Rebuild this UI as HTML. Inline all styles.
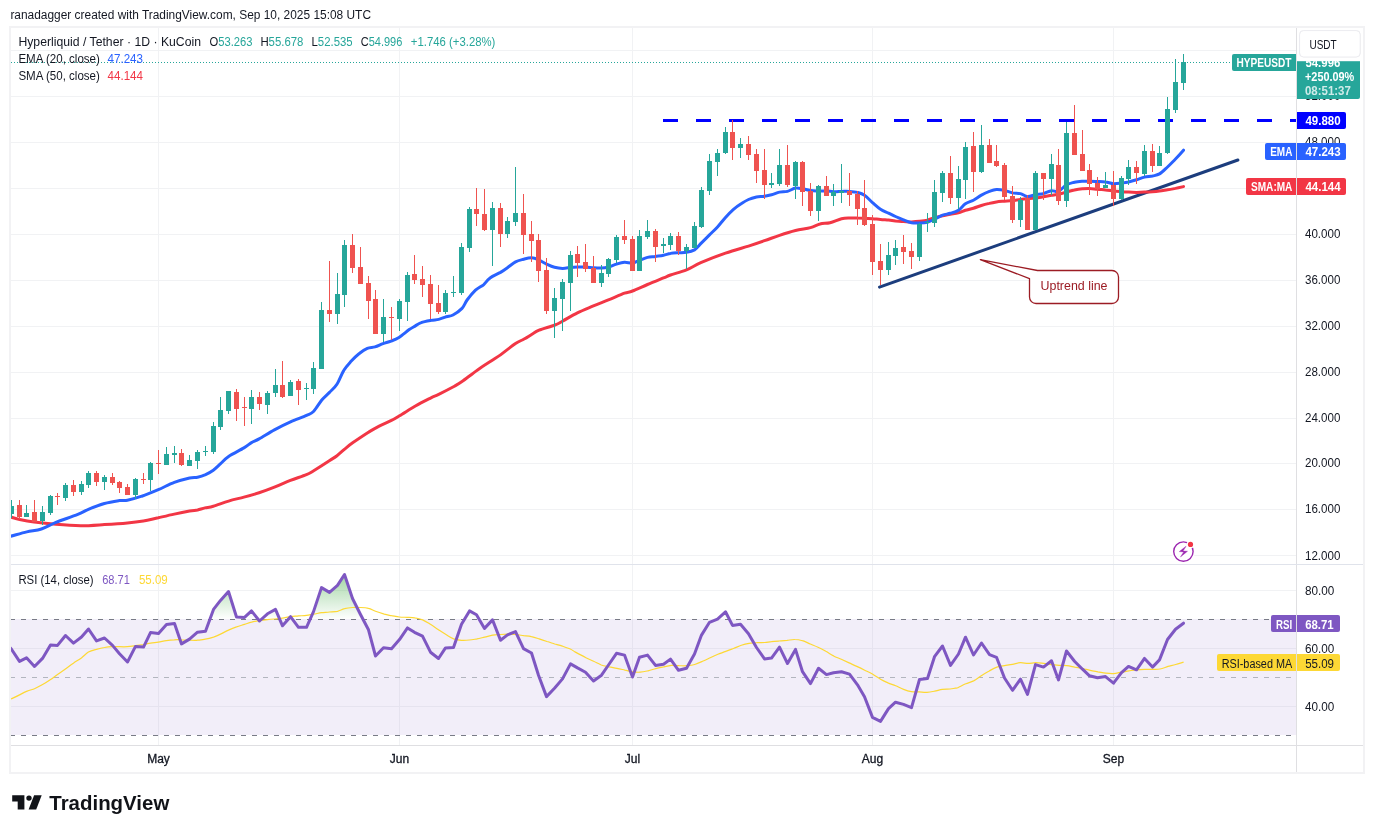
<!DOCTYPE html><html><head><meta charset="utf-8"><title>HYPEUSDT</title>
<style>
html,body{margin:0;padding:0;background:#fff;}
body{width:1374px;height:833px;overflow:hidden;position:relative;font-family:"Liberation Sans",sans-serif;color:#131722;}
svg{position:absolute;left:0;top:0;will-change:transform;}
svg text{font-family:"Liberation Sans",sans-serif;}
</style></head><body>
<svg width="1374" height="833" viewBox="0 0 1374 833">
<defs>
<clipPath id="cpMain"><rect x="11" y="28" width="1285" height="536"/></clipPath>
<clipPath id="cpRsi"><rect x="11" y="565" width="1285" height="180"/></clipPath>
<clipPath id="cpOver"><rect x="11" y="565" width="1285" height="54.5"/></clipPath>
<linearGradient id="gOver" gradientUnits="userSpaceOnUse" x1="0" y1="532.5" x2="0" y2="619.5"><stop offset="0" stop-color="#4caf50" stop-opacity="1"/><stop offset="1" stop-color="#4caf50" stop-opacity="0"/></linearGradient>
<clipPath id="cpRsiW"><rect x="11" y="565" width="1285" height="180"/></clipPath>
</defs>
<rect x="0" y="0" width="1374" height="833" fill="#fff"/>
<g shape-rendering="crispEdges" stroke="#f1f2f4" stroke-width="1">
<line x1="11" y1="555.5" x2="1296" y2="555.5"/>
<line x1="11" y1="509.5" x2="1296" y2="509.5"/>
<line x1="11" y1="463.5" x2="1296" y2="463.5"/>
<line x1="11" y1="418.5" x2="1296" y2="418.5"/>
<line x1="11" y1="372.5" x2="1296" y2="372.5"/>
<line x1="11" y1="326.5" x2="1296" y2="326.5"/>
<line x1="11" y1="280.5" x2="1296" y2="280.5"/>
<line x1="11" y1="234.5" x2="1296" y2="234.5"/>
<line x1="11" y1="188.5" x2="1296" y2="188.5"/>
<line x1="11" y1="142.5" x2="1296" y2="142.5"/>
<line x1="11" y1="96.5" x2="1296" y2="96.5"/>
<line x1="11" y1="50.5" x2="1296" y2="50.5"/>
<line x1="11" y1="590.5" x2="1296" y2="590.5"/>
<line x1="11" y1="648.5" x2="1296" y2="648.5"/>
<line x1="11" y1="706.5" x2="1296" y2="706.5"/>
<line x1="158.5" y1="28" x2="158.5" y2="745"/>
<line x1="399.5" y1="28" x2="399.5" y2="745"/>
<line x1="632.5" y1="28" x2="632.5" y2="745"/>
<line x1="872.5" y1="28" x2="872.5" y2="745"/>
<line x1="1113.5" y1="28" x2="1113.5" y2="745"/>
</g>
<rect x="11" y="619" width="1285" height="116" fill="#7e57c2" fill-opacity="0.1"/>
<g shape-rendering="crispEdges" stroke="#e6e3ef" stroke-width="1">
<line x1="11" y1="648.5" x2="1296" y2="648.5"/>
<line x1="11" y1="706.5" x2="1296" y2="706.5"/>
<line x1="158.5" y1="619.5" x2="158.5" y2="735.5"/>
<line x1="399.5" y1="619.5" x2="399.5" y2="735.5"/>
<line x1="632.5" y1="619.5" x2="632.5" y2="735.5"/>
<line x1="872.5" y1="619.5" x2="872.5" y2="735.5"/>
<line x1="1113.5" y1="619.5" x2="1113.5" y2="735.5"/>
</g>
<g shape-rendering="crispEdges" stroke-width="1" stroke-dasharray="5 6" clip-path="url(#cpRsiW)">
<line x1="10" y1="619.5" x2="1296" y2="619.5" stroke="#787b86"/>
<line x1="10" y1="677.5" x2="1296" y2="677.5" stroke="#b2b5be"/>
<line x1="10" y1="735.5" x2="1296" y2="735.5" stroke="#787b86"/>
</g>
<path d="M3.5,639.9 L11.5,649.3 L19.5,661.4 L26.5,657.8 L34.5,666.5 L42.5,658.4 L50.5,645.0 L57.5,645.4 L65.5,635.5 L73.5,643.1 L81.5,637.0 L88.5,629.0 L96.5,640.9 L104.5,638.0 L112.5,645.4 L119.5,653.7 L127.5,662.0 L135.5,646.4 L143.5,647.1 L150.5,632.6 L158.5,633.6 L166.5,624.6 L174.5,623.4 L181.5,643.9 L189.5,639.1 L197.5,632.2 L205.5,631.2 L213.5,609.4 L220.5,600.4 L228.5,591.5 L236.5,617.0 L244.5,617.4 L251.5,610.9 L259.5,621.0 L267.5,613.8 L275.5,609.4 L282.5,625.8 L290.5,616.7 L298.5,627.3 L306.5,627.3 L313.5,611.6 L321.5,587.6 L329.5,592.4 L337.5,585.4 L344.5,574.5 L352.5,598.5 L360.5,614.5 L368.5,629.8 L375.5,656.0 L383.5,647.7 L391.5,648.7 L399.5,639.6 L407.5,627.9 L414.5,632.3 L422.5,636.2 L430.5,652.2 L438.5,658.5 L445.5,647.9 L453.5,647.6 L461.5,624.3 L469.5,610.9 L476.5,614.8 L484.5,628.4 L492.5,619.9 L500.5,640.3 L507.5,634.9 L515.5,631.6 L523.5,648.6 L531.5,653.0 L538.5,675.2 L546.5,696.6 L554.5,688.3 L562.5,678.9 L570.5,663.9 L577.5,667.9 L585.5,672.2 L593.5,681.0 L601.5,675.2 L608.5,665.0 L616.5,653.3 L624.5,655.1 L632.5,677.0 L639.5,657.2 L647.5,655.1 L655.5,665.4 L663.5,664.2 L670.5,659.1 L678.5,670.3 L686.5,668.3 L694.5,654.0 L701.5,635.1 L709.5,622.3 L717.5,619.1 L725.5,611.8 L732.5,625.4 L740.5,624.2 L748.5,633.7 L756.5,647.5 L764.5,658.9 L771.5,658.1 L779.5,647.2 L787.5,663.5 L795.5,649.4 L802.5,671.7 L810.5,683.6 L818.5,668.3 L826.5,674.6 L833.5,672.7 L841.5,671.7 L849.5,674.1 L857.5,684.8 L864.5,696.7 L872.5,717.4 L880.5,721.4 L888.5,708.6 L895.5,702.2 L903.5,704.4 L911.5,707.6 L919.5,679.5 L927.5,678.5 L934.5,656.7 L942.5,646.0 L950.5,665.4 L958.5,654.0 L965.5,637.2 L973.5,655.0 L981.5,643.0 L989.5,654.7 L996.5,657.3 L1004.5,678.0 L1012.5,690.3 L1020.5,679.1 L1027.5,694.4 L1035.5,664.6 L1043.5,667.1 L1051.5,660.8 L1058.5,679.9 L1066.5,651.0 L1074.5,661.2 L1082.5,669.2 L1089.5,675.8 L1097.5,677.7 L1105.5,676.6 L1113.5,683.2 L1121.5,672.7 L1128.5,666.4 L1136.5,669.8 L1144.5,658.4 L1152.5,667.1 L1159.5,659.9 L1167.5,639.5 L1175.5,629.3 L1183.5,623.2 L1183.5,619.5 L3.5,619.5 Z" fill="url(#gOver)" clip-path="url(#cpOver)"/>
<path d="M2.1,700.6 C3.5,700.4 6.5,700.7 10.5,699.1 C14.6,697.6 22.5,693.2 26.5,691.4 C30.5,689.7 31.9,689.8 34.5,688.7 C37.2,687.5 39.9,686.1 42.6,684.6 C45.2,683.1 48.1,681.2 50.6,679.5 C53.1,677.8 55.1,676.1 57.5,674.4 C60.0,672.6 62.8,670.9 65.4,669.0 C68.1,667.1 70.7,665.0 73.4,663.2 C76.1,661.3 78.9,659.8 81.4,657.9 C83.9,656.1 85.9,653.6 88.4,652.1 C90.9,650.7 93.7,650.1 96.4,649.4 C99.1,648.6 101.7,647.9 104.4,647.5 C107.1,647.0 109.9,646.7 112.4,646.6 C114.9,646.5 116.9,646.7 119.4,646.7 C121.9,646.8 124.7,646.9 127.4,646.7 C130.1,646.6 132.8,646.1 135.4,645.7 C138.1,645.4 140.9,645.0 143.4,644.6 C146.0,644.1 148.1,643.5 150.6,643.1 C153.0,642.7 155.7,642.5 158.3,642.1 C160.9,641.7 163.6,641.0 166.3,640.6 C168.9,640.2 171.7,639.9 174.3,639.8 C176.8,639.6 179.0,639.7 181.6,639.8 C184.1,639.8 187.3,640.1 189.6,640.2 C191.8,640.3 193.7,640.4 195.0,640.4 C196.3,640.4 195.9,640.4 197.6,640.2 C199.3,640.0 202.7,639.8 205.3,639.2 C208.0,638.7 211.0,637.9 213.5,637.1 C216.0,636.2 218.0,635.3 220.5,634.1 C223.0,633.0 225.8,631.3 228.5,630.1 C231.1,628.9 233.8,627.8 236.5,626.9 C239.2,625.9 242.0,625.2 244.5,624.4 C247.0,623.6 249.0,622.7 251.5,622.1 C254.0,621.4 256.8,621.0 259.5,620.6 C262.2,620.2 264.8,619.9 267.5,619.6 C270.2,619.3 273.0,619.1 275.5,618.9 C278.0,618.6 280.0,618.5 282.5,618.1 C285.0,617.8 287.8,617.0 290.5,616.7 C293.2,616.3 295.8,616.2 298.5,615.9 C301.2,615.7 304.0,615.7 306.5,615.4 C309.0,615.1 311.0,614.6 313.5,614.2 C316.0,613.8 318.8,613.1 321.5,612.7 C324.2,612.4 326.8,612.3 329.5,612.0 C332.2,611.8 335.0,611.8 337.5,611.3 C340.0,610.7 342.0,609.3 344.5,608.7 C347.0,608.0 349.8,607.7 352.5,607.5 C355.2,607.3 357.8,607.4 360.5,607.5 C363.2,607.6 366.0,607.7 368.5,608.4 C371.0,609.0 372.9,610.3 375.5,611.3 C378.1,612.3 381.6,613.4 384.3,614.2 C386.9,614.9 389.0,615.2 391.5,615.7 C394.0,616.1 396.7,616.7 399.3,617.0 C401.9,617.3 404.5,617.2 407.1,617.3 C409.7,617.4 412.3,617.3 414.8,617.8 C417.4,618.2 420.0,618.8 422.6,619.9 C425.2,621.0 427.8,622.7 430.4,624.3 C433.0,625.9 435.5,627.7 438.1,629.4 C440.7,631.1 443.4,632.9 446.0,634.5 C448.6,636.1 451.1,637.9 453.7,638.9 C456.3,639.8 458.8,640.1 461.4,640.3 C464.0,640.5 466.7,640.3 469.3,640.0 C471.9,639.8 474.4,639.3 477.0,638.9 C479.6,638.4 482.1,637.7 484.7,637.1 C487.3,636.5 490.0,635.7 492.6,635.2 C495.2,634.8 497.7,634.7 500.3,634.5 C502.9,634.3 505.5,634.2 508.1,634.2 C510.7,634.2 513.3,634.2 515.9,634.5 C518.4,634.7 521.0,635.3 523.6,635.7 C526.2,636.0 528.8,636.1 531.4,636.7 C534.0,637.2 536.6,638.1 539.1,638.9 C541.7,639.7 544.4,640.6 547.0,641.5 C549.6,642.3 552.2,643.2 554.7,644.0 C557.3,644.7 559.8,645.3 562.4,646.1 C565.0,647.0 568.2,648.1 570.3,649.0 C572.4,650.0 572.4,650.4 575.0,651.9 C577.6,653.3 582.8,656.1 585.9,657.7 C589.0,659.3 591.1,660.1 593.6,661.3 C596.2,662.5 598.8,664.0 601.3,665.0 C603.9,665.9 606.6,666.3 609.2,666.9 C611.8,667.4 614.3,667.8 616.9,668.3 C619.5,668.8 622.2,669.5 624.8,670.1 C627.4,670.6 629.9,671.4 632.5,671.8 C635.1,672.2 637.6,672.4 640.2,672.2 C642.8,672.1 645.5,671.4 648.1,670.8 C650.7,670.2 653.2,669.3 655.8,668.6 C658.4,667.9 661.1,667.4 663.6,666.9 C666.2,666.3 668.8,665.6 671.4,665.4 C673.9,665.2 676.5,665.6 679.1,665.7 C681.7,665.7 684.3,665.9 686.9,665.7 C689.5,665.5 692.1,665.3 694.7,664.5 C697.2,663.8 699.9,662.5 702.5,661.3 C705.1,660.2 707.7,658.9 710.2,657.7 C712.8,656.5 715.3,655.4 717.9,654.3 C720.5,653.3 723.2,652.4 725.8,651.4 C728.4,650.5 730.9,649.5 733.5,648.5 C736.1,647.5 738.8,646.2 741.4,645.3 C744.0,644.5 746.5,643.9 749.1,643.4 C751.7,643.0 754.2,642.8 756.8,642.7 C759.4,642.5 762.4,642.6 764.8,642.5 C767.3,642.3 769.0,641.9 771.4,641.7 C773.8,641.4 776.5,641.2 779.1,641.0 C781.7,640.7 784.4,640.6 787.0,640.4 C789.6,640.1 792.1,639.4 794.7,639.5 C797.3,639.5 799.8,639.9 802.4,640.7 C805.0,641.4 807.7,642.9 810.3,644.0 C812.9,645.1 815.4,646.0 818.0,647.2 C820.6,648.4 823.2,649.8 825.8,651.3 C828.4,652.7 831.0,654.6 833.6,655.9 C836.1,657.3 838.7,658.1 841.3,659.3 C843.9,660.5 846.5,661.7 849.1,662.9 C851.7,664.1 854.3,665.2 856.8,666.4 C859.4,667.6 862.1,668.9 864.7,670.2 C867.3,671.5 869.9,672.7 872.4,674.1 C875.0,675.6 877.5,677.5 880.1,678.9 C882.7,680.4 885.4,681.7 888.0,682.9 C890.6,684.0 893.1,684.7 895.7,685.8 C898.3,686.9 901.0,688.5 903.6,689.4 C906.2,690.4 908.7,691.2 911.3,691.6 C913.9,692.0 916.4,691.8 919.0,691.9 C921.6,692.0 924.3,692.5 926.9,692.3 C929.5,692.2 932.0,691.7 934.6,691.2 C937.2,690.7 939.8,689.8 942.4,689.4 C945.0,689.1 948.1,689.2 950.2,689.0 C952.2,688.8 953.7,688.4 955.0,688.2 C956.3,687.9 956.1,688.4 957.9,687.7 C959.7,687.0 963.1,684.9 965.8,683.8 C968.4,682.7 971.0,682.2 973.6,680.9 C976.2,679.5 978.8,677.4 981.3,675.8 C983.9,674.1 986.6,672.4 989.2,671.0 C991.8,669.5 994.3,668.0 996.9,667.1 C999.5,666.2 1002.0,666.0 1004.6,665.6 C1007.2,665.2 1009.9,664.9 1012.5,664.4 C1015.1,663.9 1017.6,662.9 1020.2,662.7 C1022.8,662.5 1025.5,663.4 1028.1,663.4 C1030.7,663.4 1033.2,662.7 1035.8,662.7 C1038.4,662.7 1040.9,663.1 1043.5,663.4 C1046.1,663.7 1048.8,664.3 1051.4,664.6 C1054.0,664.9 1056.5,665.1 1059.1,665.3 C1061.7,665.5 1064.3,665.3 1066.9,665.6 C1069.5,665.9 1072.1,666.6 1074.7,667.1 C1077.2,667.5 1079.8,668.0 1082.4,668.5 C1085.0,669.1 1087.6,669.8 1090.2,670.4 C1092.8,671.0 1095.3,671.4 1097.9,671.9 C1100.5,672.3 1103.2,672.9 1105.8,673.2 C1108.4,673.5 1111.0,673.8 1113.5,673.6 C1116.1,673.5 1118.7,672.7 1121.3,672.2 C1123.8,671.8 1126.5,671.2 1129.1,670.8 C1131.7,670.4 1134.2,670.0 1136.8,669.8 C1139.4,669.5 1142.1,669.4 1144.7,669.3 C1147.3,669.3 1149.8,669.4 1152.4,669.3 C1155.0,669.3 1157.5,669.5 1160.1,669.0 C1162.7,668.6 1165.4,667.2 1168.0,666.4 C1170.6,665.7 1173.1,665.3 1175.7,664.5 C1178.3,663.8 1182.2,662.5 1183.6,662.1" fill="none" stroke="#fdd835" stroke-width="1.2" stroke-linejoin="round" clip-path="url(#cpRsi)"/>
<path d="M3.5,639.9 L11.5,649.3 L19.5,661.4 L26.5,657.8 L34.5,666.5 L42.5,658.4 L50.5,645.0 L57.5,645.4 L65.5,635.5 L73.5,643.1 L81.5,637.0 L88.5,629.0 L96.5,640.9 L104.5,638.0 L112.5,645.4 L119.5,653.7 L127.5,662.0 L135.5,646.4 L143.5,647.1 L150.5,632.6 L158.5,633.6 L166.5,624.6 L174.5,623.4 L181.5,643.9 L189.5,639.1 L197.5,632.2 L205.5,631.2 L213.5,609.4 L220.5,600.4 L228.5,591.5 L236.5,617.0 L244.5,617.4 L251.5,610.9 L259.5,621.0 L267.5,613.8 L275.5,609.4 L282.5,625.8 L290.5,616.7 L298.5,627.3 L306.5,627.3 L313.5,611.6 L321.5,587.6 L329.5,592.4 L337.5,585.4 L344.5,574.5 L352.5,598.5 L360.5,614.5 L368.5,629.8 L375.5,656.0 L383.5,647.7 L391.5,648.7 L399.5,639.6 L407.5,627.9 L414.5,632.3 L422.5,636.2 L430.5,652.2 L438.5,658.5 L445.5,647.9 L453.5,647.6 L461.5,624.3 L469.5,610.9 L476.5,614.8 L484.5,628.4 L492.5,619.9 L500.5,640.3 L507.5,634.9 L515.5,631.6 L523.5,648.6 L531.5,653.0 L538.5,675.2 L546.5,696.6 L554.5,688.3 L562.5,678.9 L570.5,663.9 L577.5,667.9 L585.5,672.2 L593.5,681.0 L601.5,675.2 L608.5,665.0 L616.5,653.3 L624.5,655.1 L632.5,677.0 L639.5,657.2 L647.5,655.1 L655.5,665.4 L663.5,664.2 L670.5,659.1 L678.5,670.3 L686.5,668.3 L694.5,654.0 L701.5,635.1 L709.5,622.3 L717.5,619.1 L725.5,611.8 L732.5,625.4 L740.5,624.2 L748.5,633.7 L756.5,647.5 L764.5,658.9 L771.5,658.1 L779.5,647.2 L787.5,663.5 L795.5,649.4 L802.5,671.7 L810.5,683.6 L818.5,668.3 L826.5,674.6 L833.5,672.7 L841.5,671.7 L849.5,674.1 L857.5,684.8 L864.5,696.7 L872.5,717.4 L880.5,721.4 L888.5,708.6 L895.5,702.2 L903.5,704.4 L911.5,707.6 L919.5,679.5 L927.5,678.5 L934.5,656.7 L942.5,646.0 L950.5,665.4 L958.5,654.0 L965.5,637.2 L973.5,655.0 L981.5,643.0 L989.5,654.7 L996.5,657.3 L1004.5,678.0 L1012.5,690.3 L1020.5,679.1 L1027.5,694.4 L1035.5,664.6 L1043.5,667.1 L1051.5,660.8 L1058.5,679.9 L1066.5,651.0 L1074.5,661.2 L1082.5,669.2 L1089.5,675.8 L1097.5,677.7 L1105.5,676.6 L1113.5,683.2 L1121.5,672.7 L1128.5,666.4 L1136.5,669.8 L1144.5,658.4 L1152.5,667.1 L1159.5,659.9 L1167.5,639.5 L1175.5,629.3 L1183.5,623.2" fill="none" stroke="#7e57c2" stroke-width="3" stroke-linejoin="round" stroke-linecap="round" clip-path="url(#cpRsi)"/>
<g clip-path="url(#cpMain)">
<line x1="11" y1="62.5" x2="1232" y2="62.5" stroke="#26a69a" stroke-width="1" stroke-dasharray="1 2" shape-rendering="crispEdges"/>
<line x1="663" y1="120.5" x2="1296" y2="120.5" stroke="#0000ff" stroke-width="3" stroke-dasharray="15 18"/>
<line x1="879.5" y1="287.1" x2="1237.9" y2="160" stroke="#1c3d7d" stroke-width="3" stroke-linecap="round"/>
<path d="M1037.5,270.5 H1112 a6.5,6.5 0 0 1 6.5,6.5 V297 a6.5,6.5 0 0 1 -6.5,6.5 H1036 a6.5,6.5 0 0 1 -6.5,-6.5 V278.6 L980.3,259.7 Z" fill="#fff" stroke="#9c1c24" stroke-width="1.3" stroke-linejoin="round"/>
<text x="1074" y="290" font-size="12" fill="#9c1c24" text-anchor="middle" textLength="67" lengthAdjust="spacingAndGlyphs">Uptrend line</text>
<path d="M2.1,515.2 C3.5,515.5 7.6,516.3 10.5,517.0 C13.4,517.8 15.6,518.7 19.6,519.5 C23.5,520.3 28.0,521.2 34.1,522.0 C40.2,522.8 48.2,523.7 55.9,524.3 C63.7,525.0 72.6,525.7 80.7,525.8 C88.8,525.8 96.6,525.1 104.4,524.6 C112.2,524.1 120.9,523.5 127.4,522.9 C133.9,522.3 138.1,521.8 143.3,521.0 C148.4,520.1 153.1,518.9 158.3,517.8 C163.4,516.6 169.1,515.2 174.3,514.1 C179.5,513.0 185.7,511.8 189.6,511.1 C193.5,510.4 195.0,510.5 197.6,510.0 C200.1,509.4 202.4,508.5 205.0,507.9 C207.6,507.3 209.4,507.5 213.3,506.3 C217.2,505.2 223.5,502.6 228.6,501.1 C233.7,499.5 238.8,498.5 243.9,497.1 C249.0,495.8 254.0,494.4 259.1,492.8 C264.2,491.1 269.2,489.3 274.4,487.2 C279.6,485.2 285.1,482.5 290.4,480.4 C295.8,478.3 302.6,476.2 306.4,474.6 C310.3,473.0 309.8,473.0 313.7,470.7 C317.6,468.3 325.9,463.0 329.7,460.5 C333.6,458.0 334.5,457.6 337.0,455.7 C339.6,453.7 342.4,451.0 345.0,448.8 C347.7,446.6 349.0,445.4 353.0,442.6 C357.0,439.7 364.7,434.7 369.0,431.9 C373.4,429.2 375.6,428.0 379.2,426.1 C382.9,424.2 387.5,422.4 390.9,420.7 C394.3,419.0 395.5,418.2 399.5,415.7 C403.6,413.3 410.2,409.0 415.4,406.0 C420.7,403.0 427.1,399.8 431.0,397.8 C434.9,395.9 434.8,396.3 438.7,394.3 C442.6,392.4 450.5,388.3 454.4,386.2 C458.3,384.0 458.1,384.2 462.0,381.5 C465.9,378.8 472.4,373.5 477.6,369.9 C482.8,366.2 489.3,362.2 493.1,359.7 C497.0,357.2 496.8,357.6 500.5,354.9 C504.2,352.2 511.6,346.2 515.5,343.6 C519.4,340.9 521.4,340.6 524.1,339.0 C526.9,337.5 529.5,335.7 532.0,334.2 C534.5,332.7 535.3,331.8 539.1,330.2 C542.9,328.7 551.0,326.5 554.9,325.0 C558.8,323.5 558.7,323.2 562.4,321.2 C566.2,319.2 572.3,315.4 577.4,312.9 C582.6,310.3 588.3,308.1 593.4,305.9 C598.6,303.7 603.3,301.9 608.4,299.8 C613.6,297.7 620.5,294.7 624.5,293.2 C628.5,291.8 628.6,292.5 632.5,291.0 C636.3,289.6 642.3,286.7 647.5,284.5 C652.6,282.3 659.6,279.5 663.5,277.9 C667.3,276.4 666.6,276.4 670.5,275.0 C674.3,273.7 681.4,272.0 686.5,269.9 C691.5,267.9 694.2,265.5 700.8,262.7 C707.3,259.9 717.6,255.8 725.5,253.1 C733.5,250.3 742.0,248.1 748.5,246.1 C755.0,244.0 759.4,242.5 764.5,240.7 C769.7,238.9 774.4,237.0 779.5,235.3 C784.7,233.6 790.4,231.8 795.5,230.5 C800.7,229.2 806.5,228.7 810.5,227.6 C814.6,226.5 816.8,224.8 820.0,224.0 C823.2,223.1 826.4,223.6 830.0,222.7 C833.6,221.9 838.2,219.5 841.5,218.7 C844.8,217.9 846.8,218.0 849.5,217.9 C852.2,217.8 855.0,218.0 857.5,218.1 C860.0,218.1 862.0,218.1 864.5,218.2 C867.0,218.3 869.8,218.5 872.5,218.7 C875.2,218.9 877.8,219.2 880.5,219.4 C883.2,219.6 886.0,219.9 888.5,220.1 C891.0,220.4 893.0,220.6 895.5,220.9 C898.0,221.1 900.8,221.4 903.5,221.6 C906.2,221.7 908.8,221.9 911.5,221.9 C914.2,221.8 916.9,221.6 919.5,221.3 C922.2,221.0 925.0,220.7 927.5,220.1 C930.0,219.5 932.0,218.4 934.6,217.6 C937.1,216.9 939.9,216.3 942.6,215.7 C945.2,215.2 947.8,214.8 950.4,214.3 C953.1,213.8 955.9,213.5 958.4,212.8 C960.9,212.2 962.9,211.1 965.4,210.3 C967.9,209.6 970.8,209.0 973.4,208.2 C976.1,207.4 978.8,206.3 981.4,205.5 C984.1,204.7 986.9,204.0 989.4,203.4 C991.9,202.7 993.9,202.3 996.4,201.9 C998.9,201.5 1001.8,201.4 1004.4,201.2 C1007.1,201.0 1009.8,200.9 1012.4,200.6 C1015.1,200.3 1017.9,199.7 1020.4,199.4 C1022.9,199.1 1024.9,198.9 1027.4,198.7 C1029.9,198.5 1032.8,198.3 1035.4,198.0 C1038.1,197.7 1040.8,197.2 1043.4,196.8 C1046.1,196.4 1048.9,195.8 1051.4,195.3 C1053.9,194.9 1055.9,194.9 1058.4,194.3 C1060.9,193.8 1063.8,192.9 1066.4,192.1 C1069.1,191.4 1071.8,190.5 1074.4,190.0 C1077.1,189.4 1079.9,189.0 1082.4,188.8 C1084.9,188.6 1087.0,188.4 1089.5,188.5 C1092.0,188.6 1094.8,189.0 1097.5,189.2 C1100.1,189.5 1102.8,189.7 1105.5,190.0 C1108.1,190.2 1110.8,190.7 1113.5,191.0 C1116.1,191.3 1119.0,191.5 1121.5,191.7 C1124.0,191.9 1126.0,192.0 1128.5,192.1 C1131.0,192.3 1133.8,192.4 1136.5,192.4 C1139.1,192.4 1141.8,192.3 1144.5,192.1 C1147.2,192.0 1150.0,191.9 1152.5,191.7 C1155.0,191.5 1157.0,191.3 1159.5,191.0 C1162.0,190.7 1164.8,190.2 1167.5,189.8 C1170.2,189.4 1172.8,188.9 1175.5,188.4 C1178.2,187.8 1182.2,186.9 1183.5,186.6" fill="none" stroke="#f23645" stroke-width="3" stroke-linejoin="round" stroke-linecap="round"/>
<path d="M2.1,538.4 C3.5,538.1 6.4,537.4 10.5,536.3 C14.7,535.2 21.7,533.1 26.8,531.9 C32.0,530.7 36.5,530.6 41.4,529.0 C46.2,527.4 49.9,524.9 55.9,522.4 C62.0,520.0 72.4,516.6 77.8,514.4 C83.2,512.2 84.0,511.1 88.4,509.3 C92.8,507.5 99.3,505.0 104.4,503.5 C109.6,502.1 115.6,501.2 119.4,500.6 C123.2,500.0 123.7,500.9 127.4,500.2 C131.2,499.4 136.7,498.0 141.8,496.2 C147.0,494.5 152.9,492.0 158.3,489.7 C163.7,487.4 169.1,484.3 174.3,482.4 C179.5,480.5 185.7,478.9 189.6,478.0 C193.5,477.2 194.9,477.8 197.6,477.2 C200.2,476.6 203.0,475.7 205.6,474.6 C208.2,473.4 210.8,472.0 213.3,470.2 C215.8,468.4 218.0,466.0 220.6,463.7 C223.1,461.4 224.7,459.0 228.6,456.4 C232.5,453.8 240.1,450.2 243.9,447.9 C247.6,445.7 248.6,444.4 251.1,442.9 C253.7,441.3 255.3,441.1 259.1,438.9 C263.0,436.8 269.2,432.7 274.4,429.9 C279.6,427.1 285.1,424.3 290.5,421.9 C295.8,419.5 302.7,417.2 306.5,415.4 C310.3,413.7 310.9,414.1 313.5,411.5 C316.0,408.9 319.2,403.2 321.8,400.0 C324.5,396.8 326.9,395.1 329.5,392.4 C332.0,389.7 334.8,387.7 337.1,384.0 C339.5,380.4 341.3,374.4 343.7,370.6 C346.0,366.7 348.7,364.0 351.3,361.1 C353.9,358.3 356.6,355.6 359.3,353.5 C362.0,351.3 364.7,349.5 367.3,348.4 C369.9,347.3 372.4,347.7 375.0,346.9 C377.6,346.1 380.3,344.6 383.0,343.6 C385.6,342.7 388.3,342.1 391.0,341.1 C393.6,340.1 396.0,339.3 399.0,337.4 C402.0,335.5 406.5,331.5 409.2,329.6 C411.9,327.7 413.4,327.1 415.4,325.9 C417.4,324.7 418.6,323.5 421.2,322.6 C423.8,321.6 428.1,320.9 431.0,320.4 C433.9,319.8 436.1,320.0 438.7,319.4 C441.3,318.8 444.0,317.5 446.4,316.7 C448.8,316.0 450.4,316.4 453.0,315.0 C455.6,313.6 459.6,310.9 462.0,308.4 C464.4,305.9 464.9,303.0 467.1,300.0 C469.4,296.9 472.8,292.8 475.5,290.2 C478.2,287.7 481.4,286.5 483.5,284.8 C485.6,283.0 486.4,281.3 487.9,279.9 C489.4,278.6 490.4,277.7 492.5,276.4 C494.5,275.2 498.0,273.8 500.5,272.4 C503.0,270.9 504.9,269.5 507.4,267.7 C509.9,266.0 512.8,263.3 515.5,261.9 C518.1,260.5 520.8,260.0 523.5,259.3 C526.1,258.6 529.0,257.7 531.5,257.8 C534.0,257.9 536.0,258.7 538.4,259.7 C540.9,260.8 543.8,262.8 546.5,264.1 C549.1,265.3 551.8,266.6 554.5,267.3 C557.1,268.0 559.8,268.4 562.5,268.4 C565.1,268.5 568.0,267.7 570.5,267.4 C573.0,267.2 575.0,267.1 577.5,267.0 C580.0,266.9 582.8,266.9 585.5,267.0 C588.1,267.1 590.8,267.5 593.5,267.7 C596.1,267.9 599.0,268.1 601.5,268.0 C604.0,267.9 606.0,267.6 608.5,267.0 C611.0,266.3 613.8,264.9 616.5,264.1 C619.1,263.3 621.8,262.4 624.5,262.2 C627.1,262.0 630.0,263.4 632.5,263.1 C635.0,262.7 637.0,261.3 639.5,260.3 C642.0,259.4 644.8,258.1 647.5,257.4 C650.2,256.8 652.8,256.8 655.5,256.4 C658.2,256.0 661.0,255.8 663.5,255.2 C666.0,254.7 668.0,253.8 670.5,253.4 C673.0,252.9 675.8,252.9 678.5,252.8 C681.2,252.6 683.9,252.8 686.5,252.3 C689.2,251.9 692.0,251.4 694.5,249.9 C697.0,248.3 699.0,245.4 701.5,242.9 C704.0,240.4 706.9,237.5 709.5,234.9 C712.2,232.2 714.9,229.8 717.5,226.9 C720.2,224.0 722.9,220.3 725.5,217.4 C728.2,214.5 730.9,211.7 733.5,209.4 C736.2,207.1 739.0,205.2 741.5,203.6 C744.0,201.9 746.0,200.6 748.5,199.5 C751.0,198.4 753.9,197.6 756.5,197.0 C759.2,196.5 762.0,196.7 764.5,196.3 C767.0,195.9 769.0,195.5 771.5,194.8 C774.0,194.1 776.9,192.7 779.5,192.1 C782.2,191.6 784.9,192.1 787.5,191.4 C790.2,190.7 793.0,188.5 795.5,188.1 C798.0,187.6 800.0,188.4 802.5,188.8 C805.0,189.2 807.9,190.2 810.5,190.5 C813.2,190.9 815.9,190.9 818.5,191.0 C821.2,191.0 824.0,190.9 826.5,191.0 C829.0,191.1 831.0,191.6 833.5,191.7 C836.0,191.8 838.9,191.5 841.5,191.4 C844.2,191.4 846.9,191.2 849.5,191.4 C852.2,191.6 855.0,191.8 857.5,192.4 C860.0,193.1 862.0,193.6 864.5,195.3 C867.0,197.0 869.9,200.3 872.5,202.6 C875.2,204.9 877.8,207.5 880.5,209.2 C883.2,211.0 886.0,211.9 888.5,213.1 C891.0,214.3 893.0,215.4 895.5,216.5 C898.0,217.6 900.8,218.8 903.5,219.8 C906.2,220.9 908.8,222.2 911.5,222.7 C914.2,223.3 916.9,223.1 919.5,223.0 C922.2,223.0 925.0,223.0 927.5,222.3 C930.0,221.6 932.0,220.3 934.6,219.1 C937.1,217.9 939.9,216.1 942.6,215.1 C945.2,214.2 947.8,214.1 950.4,213.3 C953.1,212.5 955.9,211.9 958.4,210.3 C960.9,208.8 962.9,205.5 965.4,203.8 C967.9,202.1 970.8,201.6 973.4,200.2 C976.1,198.7 978.8,196.5 981.4,195.1 C984.1,193.6 986.9,192.3 989.4,191.4 C991.9,190.5 993.9,189.7 996.4,189.5 C998.9,189.4 1001.8,189.8 1004.4,190.4 C1007.1,191.0 1009.8,192.3 1012.4,192.9 C1015.1,193.4 1017.9,193.0 1020.4,193.6 C1022.9,194.2 1024.9,196.3 1027.4,196.5 C1029.9,196.7 1032.8,195.3 1035.4,194.8 C1038.1,194.3 1040.8,194.3 1043.4,193.6 C1046.1,192.9 1048.9,191.1 1051.4,190.7 C1053.9,190.3 1055.9,192.4 1058.4,191.4 C1060.9,190.4 1063.8,186.4 1066.4,184.9 C1069.1,183.3 1071.8,182.9 1074.4,182.2 C1077.1,181.6 1079.9,181.4 1082.4,181.2 C1084.9,181.1 1087.0,181.2 1089.5,181.2 C1092.0,181.3 1094.8,181.4 1097.5,181.5 C1100.1,181.6 1102.8,181.6 1105.5,182.0 C1108.1,182.3 1110.8,183.5 1113.5,183.7 C1116.1,183.9 1119.0,183.3 1121.5,183.0 C1124.0,182.7 1126.0,182.5 1128.5,182.0 C1131.0,181.4 1133.8,180.6 1136.5,179.8 C1139.1,179.0 1141.8,177.8 1144.5,177.1 C1147.2,176.5 1150.0,176.5 1152.5,176.0 C1155.0,175.4 1157.0,175.4 1159.5,173.9 C1162.0,172.4 1164.8,169.5 1167.5,167.0 C1170.2,164.5 1172.8,161.7 1175.5,159.0 C1178.2,156.2 1182.2,151.7 1183.5,150.2" fill="none" stroke="#2962ff" stroke-width="3" stroke-linejoin="round" stroke-linecap="round"/>
<g shape-rendering="crispEdges">
<rect x="3" y="495" width="1" height="15" fill="#26a69a"/>
<rect x="1" y="500" width="5" height="5" fill="#26a69a"/>
<rect x="11" y="500" width="1" height="18" fill="#26a69a"/>
<rect x="9" y="506" width="5" height="8" fill="#26a69a"/>
<rect x="19" y="500" width="1" height="19" fill="#ef5350"/>
<rect x="17" y="505" width="5" height="12" fill="#ef5350"/>
<rect x="26" y="505" width="1" height="12" fill="#26a69a"/>
<rect x="24" y="513" width="5" height="4" fill="#26a69a"/>
<rect x="34" y="500" width="1" height="22" fill="#ef5350"/>
<rect x="32" y="512" width="5" height="10" fill="#ef5350"/>
<rect x="42" y="506" width="1" height="19" fill="#26a69a"/>
<rect x="40" y="512" width="5" height="9" fill="#26a69a"/>
<rect x="50" y="495" width="1" height="20" fill="#26a69a"/>
<rect x="48" y="496" width="5" height="17" fill="#26a69a"/>
<rect x="57" y="493" width="1" height="12" fill="#ef5350"/>
<rect x="55" y="496" width="5" height="1" fill="#ef5350"/>
<rect x="65" y="483" width="1" height="18" fill="#26a69a"/>
<rect x="63" y="485" width="5" height="13" fill="#26a69a"/>
<rect x="73" y="480" width="1" height="16" fill="#ef5350"/>
<rect x="71" y="485" width="5" height="7" fill="#ef5350"/>
<rect x="81" y="481" width="1" height="14" fill="#26a69a"/>
<rect x="79" y="484" width="5" height="8" fill="#26a69a"/>
<rect x="88" y="471" width="1" height="17" fill="#26a69a"/>
<rect x="86" y="473" width="5" height="12" fill="#26a69a"/>
<rect x="96" y="471" width="1" height="15" fill="#ef5350"/>
<rect x="94" y="473" width="5" height="9" fill="#ef5350"/>
<rect x="104" y="475" width="1" height="15" fill="#26a69a"/>
<rect x="102" y="477" width="5" height="5" fill="#26a69a"/>
<rect x="112" y="473" width="1" height="12" fill="#ef5350"/>
<rect x="110" y="477" width="5" height="6" fill="#ef5350"/>
<rect x="119" y="481" width="1" height="12" fill="#ef5350"/>
<rect x="117" y="482" width="5" height="6" fill="#ef5350"/>
<rect x="127" y="484" width="1" height="11" fill="#ef5350"/>
<rect x="125" y="487" width="5" height="8" fill="#ef5350"/>
<rect x="135" y="478" width="1" height="21" fill="#26a69a"/>
<rect x="133" y="479" width="5" height="16" fill="#26a69a"/>
<rect x="143" y="473" width="1" height="11" fill="#ef5350"/>
<rect x="141" y="479" width="5" height="1" fill="#ef5350"/>
<rect x="150" y="462" width="1" height="29" fill="#26a69a"/>
<rect x="148" y="463" width="5" height="17" fill="#26a69a"/>
<rect x="158" y="450" width="1" height="24" fill="#ef5350"/>
<rect x="156" y="463" width="5" height="1" fill="#ef5350"/>
<rect x="166" y="447" width="1" height="18" fill="#26a69a"/>
<rect x="164" y="454" width="5" height="11" fill="#26a69a"/>
<rect x="174" y="446" width="1" height="17" fill="#26a69a"/>
<rect x="172" y="453" width="5" height="2" fill="#26a69a"/>
<rect x="181" y="449" width="1" height="17" fill="#ef5350"/>
<rect x="179" y="453" width="5" height="12" fill="#ef5350"/>
<rect x="189" y="455" width="1" height="11" fill="#26a69a"/>
<rect x="187" y="460" width="5" height="6" fill="#26a69a"/>
<rect x="197" y="450" width="1" height="19" fill="#26a69a"/>
<rect x="195" y="452" width="5" height="9" fill="#26a69a"/>
<rect x="205" y="446" width="1" height="10" fill="#26a69a"/>
<rect x="203" y="451" width="5" height="1" fill="#26a69a"/>
<rect x="213" y="422" width="1" height="32" fill="#26a69a"/>
<rect x="211" y="426" width="5" height="26" fill="#26a69a"/>
<rect x="220" y="397" width="1" height="33" fill="#26a69a"/>
<rect x="218" y="410" width="5" height="17" fill="#26a69a"/>
<rect x="228" y="391" width="1" height="23" fill="#26a69a"/>
<rect x="226" y="391" width="5" height="20" fill="#26a69a"/>
<rect x="236" y="389" width="1" height="32" fill="#ef5350"/>
<rect x="234" y="392" width="5" height="17" fill="#ef5350"/>
<rect x="244" y="397" width="1" height="29" fill="#ef5350"/>
<rect x="242" y="407" width="5" height="1" fill="#ef5350"/>
<rect x="251" y="390" width="1" height="34" fill="#26a69a"/>
<rect x="249" y="397" width="5" height="12" fill="#26a69a"/>
<rect x="259" y="392" width="1" height="18" fill="#ef5350"/>
<rect x="257" y="397" width="5" height="7" fill="#ef5350"/>
<rect x="267" y="391" width="1" height="23" fill="#26a69a"/>
<rect x="265" y="393" width="5" height="12" fill="#26a69a"/>
<rect x="275" y="369" width="1" height="28" fill="#26a69a"/>
<rect x="273" y="385" width="5" height="8" fill="#26a69a"/>
<rect x="282" y="361" width="1" height="37" fill="#ef5350"/>
<rect x="280" y="385" width="5" height="12" fill="#ef5350"/>
<rect x="290" y="380" width="1" height="16" fill="#26a69a"/>
<rect x="288" y="382" width="5" height="14" fill="#26a69a"/>
<rect x="298" y="379" width="1" height="26" fill="#ef5350"/>
<rect x="296" y="381" width="5" height="9" fill="#ef5350"/>
<rect x="306" y="383" width="1" height="17" fill="#26a69a"/>
<rect x="304" y="388" width="5" height="1" fill="#26a69a"/>
<rect x="313" y="362" width="1" height="32" fill="#26a69a"/>
<rect x="311" y="368" width="5" height="21" fill="#26a69a"/>
<rect x="321" y="302" width="1" height="67" fill="#26a69a"/>
<rect x="319" y="310" width="5" height="59" fill="#26a69a"/>
<rect x="329" y="261" width="1" height="61" fill="#ef5350"/>
<rect x="327" y="310" width="5" height="4" fill="#ef5350"/>
<rect x="337" y="273" width="1" height="51" fill="#26a69a"/>
<rect x="335" y="294" width="5" height="20" fill="#26a69a"/>
<rect x="344" y="240" width="1" height="67" fill="#26a69a"/>
<rect x="342" y="245" width="5" height="50" fill="#26a69a"/>
<rect x="352" y="234" width="1" height="39" fill="#ef5350"/>
<rect x="350" y="245" width="5" height="23" fill="#ef5350"/>
<rect x="360" y="247" width="1" height="37" fill="#ef5350"/>
<rect x="358" y="267" width="5" height="17" fill="#ef5350"/>
<rect x="368" y="276" width="1" height="43" fill="#ef5350"/>
<rect x="366" y="283" width="5" height="18" fill="#ef5350"/>
<rect x="375" y="290" width="1" height="44" fill="#ef5350"/>
<rect x="373" y="299" width="5" height="35" fill="#ef5350"/>
<rect x="383" y="299" width="1" height="43" fill="#26a69a"/>
<rect x="381" y="317" width="5" height="17" fill="#26a69a"/>
<rect x="391" y="307" width="1" height="33" fill="#ef5350"/>
<rect x="389" y="317" width="5" height="1" fill="#ef5350"/>
<rect x="399" y="299" width="1" height="32" fill="#26a69a"/>
<rect x="397" y="301" width="5" height="18" fill="#26a69a"/>
<rect x="407" y="272" width="1" height="49" fill="#26a69a"/>
<rect x="405" y="275" width="5" height="27" fill="#26a69a"/>
<rect x="414" y="255" width="1" height="29" fill="#ef5350"/>
<rect x="412" y="274" width="5" height="6" fill="#ef5350"/>
<rect x="422" y="266" width="1" height="31" fill="#ef5350"/>
<rect x="420" y="279" width="5" height="6" fill="#ef5350"/>
<rect x="430" y="275" width="1" height="44" fill="#ef5350"/>
<rect x="428" y="284" width="5" height="20" fill="#ef5350"/>
<rect x="438" y="285" width="1" height="29" fill="#ef5350"/>
<rect x="436" y="303" width="5" height="9" fill="#ef5350"/>
<rect x="445" y="290" width="1" height="24" fill="#26a69a"/>
<rect x="443" y="293" width="5" height="19" fill="#26a69a"/>
<rect x="453" y="276" width="1" height="21" fill="#26a69a"/>
<rect x="451" y="292" width="5" height="1" fill="#26a69a"/>
<rect x="461" y="243" width="1" height="52" fill="#26a69a"/>
<rect x="459" y="247" width="5" height="46" fill="#26a69a"/>
<rect x="469" y="207" width="1" height="45" fill="#26a69a"/>
<rect x="467" y="209" width="5" height="39" fill="#26a69a"/>
<rect x="476" y="188" width="1" height="38" fill="#ef5350"/>
<rect x="474" y="209" width="5" height="5" fill="#ef5350"/>
<rect x="484" y="189" width="1" height="42" fill="#ef5350"/>
<rect x="482" y="214" width="5" height="16" fill="#ef5350"/>
<rect x="492" y="202" width="1" height="64" fill="#26a69a"/>
<rect x="490" y="208" width="5" height="22" fill="#26a69a"/>
<rect x="500" y="203" width="1" height="44" fill="#ef5350"/>
<rect x="498" y="208" width="5" height="26" fill="#ef5350"/>
<rect x="507" y="217" width="1" height="21" fill="#26a69a"/>
<rect x="505" y="221" width="5" height="13" fill="#26a69a"/>
<rect x="515" y="167" width="1" height="59" fill="#26a69a"/>
<rect x="513" y="213" width="5" height="9" fill="#26a69a"/>
<rect x="523" y="194" width="1" height="60" fill="#ef5350"/>
<rect x="521" y="213" width="5" height="22" fill="#ef5350"/>
<rect x="531" y="221" width="1" height="41" fill="#ef5350"/>
<rect x="529" y="234" width="5" height="7" fill="#ef5350"/>
<rect x="538" y="234" width="1" height="48" fill="#ef5350"/>
<rect x="536" y="240" width="5" height="31" fill="#ef5350"/>
<rect x="546" y="258" width="1" height="56" fill="#ef5350"/>
<rect x="544" y="270" width="5" height="41" fill="#ef5350"/>
<rect x="554" y="288" width="1" height="50" fill="#26a69a"/>
<rect x="552" y="298" width="5" height="13" fill="#26a69a"/>
<rect x="562" y="279" width="1" height="52" fill="#26a69a"/>
<rect x="560" y="282" width="5" height="17" fill="#26a69a"/>
<rect x="570" y="251" width="1" height="60" fill="#26a69a"/>
<rect x="568" y="255" width="5" height="28" fill="#26a69a"/>
<rect x="577" y="246" width="1" height="31" fill="#ef5350"/>
<rect x="575" y="254" width="5" height="9" fill="#ef5350"/>
<rect x="585" y="244" width="1" height="28" fill="#ef5350"/>
<rect x="583" y="262" width="5" height="7" fill="#ef5350"/>
<rect x="593" y="256" width="1" height="27" fill="#ef5350"/>
<rect x="591" y="268" width="5" height="15" fill="#ef5350"/>
<rect x="601" y="265" width="1" height="22" fill="#26a69a"/>
<rect x="599" y="273" width="5" height="10" fill="#26a69a"/>
<rect x="608" y="258" width="1" height="19" fill="#26a69a"/>
<rect x="606" y="259" width="5" height="15" fill="#26a69a"/>
<rect x="616" y="235" width="1" height="28" fill="#26a69a"/>
<rect x="614" y="237" width="5" height="23" fill="#26a69a"/>
<rect x="624" y="220" width="1" height="24" fill="#ef5350"/>
<rect x="622" y="236" width="5" height="4" fill="#ef5350"/>
<rect x="632" y="236" width="1" height="35" fill="#ef5350"/>
<rect x="630" y="239" width="5" height="32" fill="#ef5350"/>
<rect x="639" y="230" width="1" height="41" fill="#26a69a"/>
<rect x="637" y="236" width="5" height="35" fill="#26a69a"/>
<rect x="647" y="220" width="1" height="19" fill="#26a69a"/>
<rect x="645" y="231" width="5" height="6" fill="#26a69a"/>
<rect x="655" y="229" width="1" height="33" fill="#ef5350"/>
<rect x="653" y="231" width="5" height="16" fill="#ef5350"/>
<rect x="663" y="238" width="1" height="15" fill="#26a69a"/>
<rect x="661" y="244" width="5" height="2" fill="#26a69a"/>
<rect x="670" y="233" width="1" height="17" fill="#26a69a"/>
<rect x="668" y="236" width="5" height="9" fill="#26a69a"/>
<rect x="678" y="232" width="1" height="23" fill="#ef5350"/>
<rect x="676" y="236" width="5" height="15" fill="#ef5350"/>
<rect x="686" y="244" width="1" height="25" fill="#26a69a"/>
<rect x="684" y="247" width="5" height="4" fill="#26a69a"/>
<rect x="694" y="222" width="1" height="26" fill="#26a69a"/>
<rect x="692" y="226" width="5" height="22" fill="#26a69a"/>
<rect x="701" y="187" width="1" height="41" fill="#26a69a"/>
<rect x="699" y="190" width="5" height="37" fill="#26a69a"/>
<rect x="709" y="154" width="1" height="41" fill="#26a69a"/>
<rect x="707" y="161" width="5" height="30" fill="#26a69a"/>
<rect x="717" y="149" width="1" height="27" fill="#26a69a"/>
<rect x="715" y="153" width="5" height="9" fill="#26a69a"/>
<rect x="725" y="127" width="1" height="27" fill="#26a69a"/>
<rect x="723" y="132" width="5" height="21" fill="#26a69a"/>
<rect x="732" y="120" width="1" height="40" fill="#ef5350"/>
<rect x="730" y="132" width="5" height="16" fill="#ef5350"/>
<rect x="740" y="138" width="1" height="20" fill="#26a69a"/>
<rect x="738" y="144" width="5" height="4" fill="#26a69a"/>
<rect x="748" y="136" width="1" height="24" fill="#ef5350"/>
<rect x="746" y="144" width="5" height="11" fill="#ef5350"/>
<rect x="756" y="149" width="1" height="34" fill="#ef5350"/>
<rect x="754" y="154" width="5" height="17" fill="#ef5350"/>
<rect x="764" y="149" width="1" height="50" fill="#ef5350"/>
<rect x="762" y="170" width="5" height="15" fill="#ef5350"/>
<rect x="771" y="173" width="1" height="15" fill="#26a69a"/>
<rect x="769" y="183" width="5" height="2" fill="#26a69a"/>
<rect x="779" y="149" width="1" height="37" fill="#26a69a"/>
<rect x="777" y="165" width="5" height="19" fill="#26a69a"/>
<rect x="787" y="145" width="1" height="42" fill="#ef5350"/>
<rect x="785" y="165" width="5" height="20" fill="#ef5350"/>
<rect x="795" y="161" width="1" height="38" fill="#26a69a"/>
<rect x="793" y="162" width="5" height="24" fill="#26a69a"/>
<rect x="802" y="161" width="1" height="45" fill="#ef5350"/>
<rect x="800" y="162" width="5" height="30" fill="#ef5350"/>
<rect x="810" y="183" width="1" height="33" fill="#ef5350"/>
<rect x="808" y="191" width="5" height="20" fill="#ef5350"/>
<rect x="818" y="185" width="1" height="36" fill="#26a69a"/>
<rect x="816" y="186" width="5" height="25" fill="#26a69a"/>
<rect x="826" y="176" width="1" height="20" fill="#ef5350"/>
<rect x="824" y="186" width="5" height="10" fill="#ef5350"/>
<rect x="833" y="184" width="1" height="22" fill="#26a69a"/>
<rect x="831" y="192" width="5" height="4" fill="#26a69a"/>
<rect x="841" y="164" width="1" height="39" fill="#26a69a"/>
<rect x="839" y="191" width="5" height="2" fill="#26a69a"/>
<rect x="849" y="173" width="1" height="33" fill="#ef5350"/>
<rect x="847" y="191" width="5" height="4" fill="#ef5350"/>
<rect x="857" y="191" width="1" height="34" fill="#ef5350"/>
<rect x="855" y="194" width="5" height="15" fill="#ef5350"/>
<rect x="864" y="180" width="1" height="46" fill="#ef5350"/>
<rect x="862" y="208" width="5" height="17" fill="#ef5350"/>
<rect x="872" y="215" width="1" height="60" fill="#ef5350"/>
<rect x="870" y="224" width="5" height="38" fill="#ef5350"/>
<rect x="880" y="244" width="1" height="41" fill="#ef5350"/>
<rect x="878" y="261" width="5" height="9" fill="#ef5350"/>
<rect x="888" y="242" width="1" height="33" fill="#26a69a"/>
<rect x="886" y="255" width="5" height="15" fill="#26a69a"/>
<rect x="895" y="240" width="1" height="25" fill="#26a69a"/>
<rect x="893" y="248" width="5" height="8" fill="#26a69a"/>
<rect x="903" y="235" width="1" height="29" fill="#ef5350"/>
<rect x="901" y="247" width="5" height="5" fill="#ef5350"/>
<rect x="911" y="243" width="1" height="26" fill="#ef5350"/>
<rect x="909" y="251" width="5" height="6" fill="#ef5350"/>
<rect x="919" y="223" width="1" height="38" fill="#26a69a"/>
<rect x="917" y="224" width="5" height="33" fill="#26a69a"/>
<rect x="927" y="213" width="1" height="19" fill="#26a69a"/>
<rect x="925" y="222" width="5" height="1" fill="#26a69a"/>
<rect x="934" y="180" width="1" height="47" fill="#26a69a"/>
<rect x="932" y="192" width="5" height="31" fill="#26a69a"/>
<rect x="942" y="171" width="1" height="31" fill="#26a69a"/>
<rect x="940" y="173" width="5" height="20" fill="#26a69a"/>
<rect x="950" y="156" width="1" height="48" fill="#ef5350"/>
<rect x="948" y="173" width="5" height="25" fill="#ef5350"/>
<rect x="958" y="166" width="1" height="43" fill="#26a69a"/>
<rect x="956" y="179" width="5" height="19" fill="#26a69a"/>
<rect x="965" y="142" width="1" height="57" fill="#26a69a"/>
<rect x="963" y="147" width="5" height="33" fill="#26a69a"/>
<rect x="973" y="132" width="1" height="60" fill="#ef5350"/>
<rect x="971" y="146" width="5" height="26" fill="#ef5350"/>
<rect x="981" y="125" width="1" height="48" fill="#26a69a"/>
<rect x="979" y="145" width="5" height="27" fill="#26a69a"/>
<rect x="989" y="139" width="1" height="24" fill="#ef5350"/>
<rect x="987" y="145" width="5" height="18" fill="#ef5350"/>
<rect x="996" y="145" width="1" height="22" fill="#ef5350"/>
<rect x="994" y="161" width="5" height="5" fill="#ef5350"/>
<rect x="1004" y="163" width="1" height="37" fill="#ef5350"/>
<rect x="1002" y="165" width="5" height="32" fill="#ef5350"/>
<rect x="1012" y="186" width="1" height="37" fill="#ef5350"/>
<rect x="1010" y="196" width="5" height="24" fill="#ef5350"/>
<rect x="1020" y="197" width="1" height="30" fill="#26a69a"/>
<rect x="1018" y="200" width="5" height="20" fill="#26a69a"/>
<rect x="1027" y="195" width="1" height="35" fill="#ef5350"/>
<rect x="1025" y="198" width="5" height="32" fill="#ef5350"/>
<rect x="1035" y="171" width="1" height="59" fill="#26a69a"/>
<rect x="1033" y="173" width="5" height="57" fill="#26a69a"/>
<rect x="1043" y="173" width="1" height="27" fill="#ef5350"/>
<rect x="1041" y="173" width="5" height="6" fill="#ef5350"/>
<rect x="1051" y="154" width="1" height="41" fill="#26a69a"/>
<rect x="1049" y="164" width="5" height="15" fill="#26a69a"/>
<rect x="1058" y="149" width="1" height="56" fill="#ef5350"/>
<rect x="1056" y="165" width="5" height="36" fill="#ef5350"/>
<rect x="1066" y="122" width="1" height="85" fill="#26a69a"/>
<rect x="1064" y="133" width="5" height="68" fill="#26a69a"/>
<rect x="1074" y="105" width="1" height="50" fill="#ef5350"/>
<rect x="1072" y="133" width="5" height="22" fill="#ef5350"/>
<rect x="1082" y="130" width="1" height="41" fill="#ef5350"/>
<rect x="1080" y="154" width="5" height="17" fill="#ef5350"/>
<rect x="1089" y="164" width="1" height="31" fill="#ef5350"/>
<rect x="1087" y="170" width="5" height="14" fill="#ef5350"/>
<rect x="1097" y="177" width="1" height="19" fill="#ef5350"/>
<rect x="1095" y="183" width="5" height="6" fill="#ef5350"/>
<rect x="1105" y="172" width="1" height="16" fill="#26a69a"/>
<rect x="1103" y="185" width="5" height="3" fill="#26a69a"/>
<rect x="1113" y="171" width="1" height="35" fill="#ef5350"/>
<rect x="1111" y="185" width="5" height="14" fill="#ef5350"/>
<rect x="1121" y="176" width="1" height="24" fill="#26a69a"/>
<rect x="1119" y="178" width="5" height="21" fill="#26a69a"/>
<rect x="1128" y="160" width="1" height="25" fill="#26a69a"/>
<rect x="1126" y="167" width="5" height="12" fill="#26a69a"/>
<rect x="1136" y="161" width="1" height="23" fill="#ef5350"/>
<rect x="1134" y="167" width="5" height="6" fill="#ef5350"/>
<rect x="1144" y="145" width="1" height="31" fill="#26a69a"/>
<rect x="1142" y="151" width="5" height="23" fill="#26a69a"/>
<rect x="1152" y="144" width="1" height="28" fill="#ef5350"/>
<rect x="1150" y="151" width="5" height="15" fill="#ef5350"/>
<rect x="1159" y="146" width="1" height="20" fill="#26a69a"/>
<rect x="1157" y="153" width="5" height="13" fill="#26a69a"/>
<rect x="1167" y="97" width="1" height="57" fill="#26a69a"/>
<rect x="1165" y="109" width="5" height="44" fill="#26a69a"/>
<rect x="1175" y="59" width="1" height="54" fill="#26a69a"/>
<rect x="1173" y="82" width="5" height="28" fill="#26a69a"/>
<rect x="1183" y="54" width="1" height="36" fill="#26a69a"/>
<rect x="1181" y="62" width="5" height="21" fill="#26a69a"/>
</g>
</g>
<g><circle cx="1183.4" cy="551.6" r="11.6" fill="#fff"/><circle cx="1183.4" cy="551.6" r="9.7" fill="#fff" stroke="#9c27b0" stroke-width="1.4"/>
<path d="M1186.1,546.2 L1179.3,551.6 L1183.7,551.9 L1180.5,556.9 L1187.5,551.3 L1183.0,551.0 Z" fill="#9c27b0" stroke="#9c27b0" stroke-width="0.4" stroke-linejoin="round"/>
<circle cx="1190.5" cy="544.4" r="3.8" fill="#fff"/><circle cx="1190.5" cy="544.4" r="2.6" fill="#f23645"/></g>
<g shape-rendering="crispEdges" fill="none">
<line x1="1296.5" y1="28" x2="1296.5" y2="772" stroke="#dfdfe2"/>
<line x1="11" y1="745.5" x2="1363" y2="745.5" stroke="#dfdfe2"/>
<line x1="11" y1="564.5" x2="1363" y2="564.5" stroke="#e0e3eb"/>
<rect x="10" y="27" width="1354" height="746" stroke="#f2f2f4" stroke-width="2"/>
</g>
<g font-size="12" fill="#131722">
<text x="1305" y="559.9" textLength="35.4" lengthAdjust="spacingAndGlyphs">12.000</text>
<text x="1305" y="512.9" textLength="35.4" lengthAdjust="spacingAndGlyphs">16.000</text>
<text x="1305" y="466.9" textLength="35.4" lengthAdjust="spacingAndGlyphs">20.000</text>
<text x="1305" y="421.9" textLength="35.4" lengthAdjust="spacingAndGlyphs">24.000</text>
<text x="1305" y="375.9" textLength="35.4" lengthAdjust="spacingAndGlyphs">28.000</text>
<text x="1305" y="329.9" textLength="35.4" lengthAdjust="spacingAndGlyphs">32.000</text>
<text x="1305" y="283.9" textLength="35.4" lengthAdjust="spacingAndGlyphs">36.000</text>
<text x="1305" y="237.9" textLength="35.4" lengthAdjust="spacingAndGlyphs">40.000</text>
<text x="1305" y="191.9" textLength="35.4" lengthAdjust="spacingAndGlyphs">44.000</text>
<text x="1305" y="145.9" textLength="35.4" lengthAdjust="spacingAndGlyphs">48.000</text>
<text x="1305" y="99.9" textLength="35.4" lengthAdjust="spacingAndGlyphs">52.000</text>
<text x="1305" y="594.9" textLength="29.3" lengthAdjust="spacingAndGlyphs">80.00</text>
<text x="1305" y="652.9" textLength="29.3" lengthAdjust="spacingAndGlyphs">60.00</text>
<text x="1305" y="710.9" textLength="29.3" lengthAdjust="spacingAndGlyphs">40.00</text>
</g>
<rect x="1299.6" y="30.6" width="60.6" height="26.4" rx="4" fill="#fff" stroke="#ececf0" stroke-width="1"/>
<text x="1309.4" y="49" font-size="12" fill="#131722" textLength="27.3" lengthAdjust="spacingAndGlyphs">USDT</text>
<path d="M1297,61 H1360 V97 a2,2 0 0 1 -2,2 H1297 Z" fill="#26a69a"/>
<rect x="1297" y="58" width="63" height="3.2" fill="#fff"/>
<text x="1305.4" y="66.5" font-size="12" font-weight="bold" fill="#fff" textLength="35" lengthAdjust="spacingAndGlyphs">54.996</text>
<rect x="1298" y="57.5" width="62" height="3.5" fill="#fff"/>
<rect x="1299.6" y="30.6" width="60.6" height="26.4" rx="4" fill="#fff" stroke="#ececf0" stroke-width="1"/>
<text x="1309.4" y="49" font-size="12" fill="#131722" textLength="27.3" lengthAdjust="spacingAndGlyphs">USDT</text>
<text x="1305" y="80.8" font-size="12" font-weight="bold" fill="#fff" textLength="49.3" lengthAdjust="spacingAndGlyphs">+250.09%</text>
<text x="1305" y="94.6" font-size="12" font-weight="bold" fill="#fff" fill-opacity="0.78" textLength="45.8" lengthAdjust="spacingAndGlyphs">08:51:37</text>
<path d="M1234,54 H1296 V71 H1234 a2,2 0 0 1 -2,-2 V56 a2,2 0 0 1 2,-2 Z" fill="#26a69a"/>
<text x="1236.4" y="67.4" font-size="12" font-weight="bold" fill="#fff" textLength="55" lengthAdjust="spacingAndGlyphs">HYPEUSDT</text>
<path d="M1297,112 H1344 a2,2 0 0 1 2,2 V127 a2,2 0 0 1 -2,2 H1297 Z" fill="#0000ff"/>
<text x="1305.4" y="125.4" font-size="12" font-weight="bold" fill="#fff" textLength="35.2" lengthAdjust="spacingAndGlyphs">49.880</text>
<path d="M1267,143 H1296 V160 H1267 a2,2 0 0 1 -2,-2 V145 a2,2 0 0 1 2,-2 Z" fill="#2962ff"/>
<text x="1270.2" y="156.4" font-size="12" font-weight="bold" fill="#fff" textLength="22.2" lengthAdjust="spacingAndGlyphs">EMA</text>
<path d="M1297,143 H1344 a2,2 0 0 1 2,2 V158 a2,2 0 0 1 -2,2 H1297 Z" fill="#2962ff"/>
<text x="1305.4" y="156.4" font-size="12" font-weight="bold" fill="#fff" textLength="35.2" lengthAdjust="spacingAndGlyphs">47.243</text>
<path d="M1248,178 H1296 V195 H1248 a2,2 0 0 1 -2,-2 V180 a2,2 0 0 1 2,-2 Z" fill="#f23645"/>
<text x="1251" y="191.4" font-size="12" font-weight="bold" fill="#fff" textLength="41.4" lengthAdjust="spacingAndGlyphs">SMA:MA</text>
<path d="M1297,178 H1344 a2,2 0 0 1 2,2 V193 a2,2 0 0 1 -2,2 H1297 Z" fill="#f23645"/>
<text x="1305.4" y="191.4" font-size="12" font-weight="bold" fill="#fff" textLength="35.2" lengthAdjust="spacingAndGlyphs">44.144</text>
<path d="M1273,615 H1296 V632 H1273 a2,2 0 0 1 -2,-2 V617 a2,2 0 0 1 2,-2 Z" fill="#7e57c2"/>
<text x="1276" y="629.3" font-size="12" font-weight="bold" fill="#fff" textLength="16.2" lengthAdjust="spacingAndGlyphs">RSI</text>
<path d="M1297,615 H1338 a2,2 0 0 1 2,2 V630 a2,2 0 0 1 -2,2 H1297 Z" fill="#7e57c2"/>
<text x="1305.2" y="629.3" font-size="12" font-weight="bold" fill="#fff" textLength="28.5" lengthAdjust="spacingAndGlyphs">68.71</text>
<path d="M1219,654 H1296 V671 H1219 a2,2 0 0 1 -2,-2 V656 a2,2 0 0 1 2,-2 Z" fill="#fdd835"/>
<text x="1221.7" y="668.3" font-size="12" font-weight="normal" fill="#131722" textLength="70.5" lengthAdjust="spacingAndGlyphs">RSI-based MA</text>
<path d="M1297,654 H1338 a2,2 0 0 1 2,2 V669 a2,2 0 0 1 -2,2 H1297 Z" fill="#fdd835"/>
<text x="1305.2" y="668.3" font-size="12" font-weight="normal" fill="#131722" textLength="28.8" lengthAdjust="spacingAndGlyphs">55.09</text>
<g font-size="12" fill="#131722" stroke="#131722" stroke-width="0.3" text-anchor="middle">
<text x="158.5" y="763">May</text>
<text x="399.5" y="763">Jun</text>
<text x="632.5" y="763">Jul</text>
<text x="872.5" y="763">Aug</text>
<text x="1113.5" y="763">Sep</text>
</g>
<text x="10.4" y="19" font-size="12" fill="#131722" textLength="360.6" lengthAdjust="spacingAndGlyphs">ranadagger created with TradingView.com, Sep 10, 2025 15:08 UTC</text>
<g font-size="12">
<text x="18.4" y="46" fill="#131722" textLength="182.6" lengthAdjust="spacingAndGlyphs">Hyperliquid / Tether · 1D · KuCoin</text>
<text x="209.5" y="46" textLength="43.0" lengthAdjust="spacingAndGlyphs"><tspan fill="#131722">O</tspan><tspan fill="#26a69a">53.263</tspan></text>
<text x="260.4" y="46" textLength="43.0" lengthAdjust="spacingAndGlyphs"><tspan fill="#131722">H</tspan><tspan fill="#26a69a">55.678</tspan></text>
<text x="311.5" y="46" textLength="41.10000000000002" lengthAdjust="spacingAndGlyphs"><tspan fill="#131722">L</tspan><tspan fill="#26a69a">52.535</tspan></text>
<text x="360.7" y="46" textLength="41.60000000000002" lengthAdjust="spacingAndGlyphs"><tspan fill="#131722">C</tspan><tspan fill="#26a69a">54.996</tspan></text>
<text x="410.8" y="46" fill="#26a69a" textLength="84.6" lengthAdjust="spacingAndGlyphs">+1.746 (+3.28%)</text>
<text x="18.4" y="63" fill="#131722" textLength="81.5" lengthAdjust="spacingAndGlyphs">EMA (20, close)</text>
<text x="107.5" y="63" fill="#2962ff" textLength="35.5" lengthAdjust="spacingAndGlyphs">47.243</text>
<text x="18.4" y="79.6" fill="#131722" textLength="81.5" lengthAdjust="spacingAndGlyphs">SMA (50, close)</text>
<text x="107.5" y="79.6" fill="#f23645" textLength="35.5" lengthAdjust="spacingAndGlyphs">44.144</text>
<text x="18.4" y="583.8" fill="#131722" textLength="75.1" lengthAdjust="spacingAndGlyphs">RSI (14, close)</text>
<text x="102.2" y="583.8" fill="#7e57c2" textLength="27.7" lengthAdjust="spacingAndGlyphs">68.71</text>
<text x="138.9" y="583.8" fill="#fdd835" textLength="28.8" lengthAdjust="spacingAndGlyphs">55.09</text>
</g>
<g fill="#111318"><path d="M12.2,795.2 H24.4 V809.6 H17.7 V801.4 H12.2 Z"/><circle cx="29" cy="798.1" r="2.7"/><path d="M34.1,795.2 H41.7 L36.2,809.6 H28.6 Z"/>
<text x="49.3" y="809.6" font-size="20" font-weight="bold" textLength="120" lengthAdjust="spacingAndGlyphs">TradingView</text></g>
</svg></body></html>
